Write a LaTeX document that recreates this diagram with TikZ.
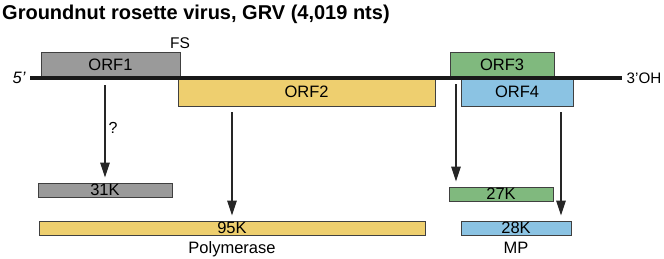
\documentclass[tikz,border=0pt]{standalone}
\usepackage{fontspec}
\setmainfont{Liberation Sans}
\usetikzlibrary{positioning,arrows.meta}
\definecolor{orfgray}{HTML}{9A9A9A}
\definecolor{orfyellow}{HTML}{EECF6F}
\definecolor{orfgreen}{HTML}{80B97E}
\definecolor{orfblue}{HTML}{8BC3E3}
\definecolor{boxline}{HTML}{404040}
\tikzset{
  orfbox/.style={draw=boxline,line width=1pt,inner sep=0pt,minimum height=26pt},
  protbox/.style={draw=boxline,line width=1pt,inner sep=0pt,minimum height=14pt},
  genome/.style={line width=4pt,draw=black!90},
  prod/.style={line width=1.3pt,draw=black!85,shorten >=5pt,-{Triangle[length=15pt,width=9.5pt]}}
}

\begin{document}
\begin{tikzpicture}[x=1pt,y=-1pt,every node/.style={font=\fontsize{16.5}{19}\selectfont,inner sep=1pt}]
  \useasboundingbox (0,0) rectangle (664,258);
  \node[anchor=base west,font=\fontsize{20}{22}\selectfont\bfseries] (title) at (1,19)
    {Groundnut rosette virus, GRV (4,019 nts)};
  % open reading frames on the genome
  \node[orfbox,fill=orfgray,minimum width=139pt] (orf1) at (110.5,65) {ORF1};
  \node[orfbox,fill=orfyellow,minimum width=257pt,minimum height=28pt] (orf2) at (306.5,92) {ORF2};
  \node[orfbox,fill=orfgreen,minimum width=104pt] (orf3) at (502,65) {ORF3};
  \node[orfbox,fill=orfblue,minimum width=112pt,minimum height=28pt] (orf4) at (517,92) {ORF4};
  \coordinate (g5) at (30,78);
  \coordinate (g3) at (622,78);
  \draw[genome] (g5) -- (g3);
  \node[left=3pt of g5] (five) {\textit{5'}};
  \node[right=3.5pt of g3,font=\fontsize{15.2}{17}\selectfont] (three) {3'OH};
  \node[font=\fontsize{15.5}{17}\selectfont] (fs) at (180,43) {FS};
  % products
  \node[protbox,fill=orfgray,minimum width=134pt] (p31) at (105,190) {31K};
  \node[protbox,fill=orfyellow,minimum width=386pt] (p95) at (232,228) {95K};
  \node[protbox,fill=orfgreen,minimum width=104pt] (p27) at (501,194) {27K};
  \node[protbox,fill=orfblue,minimum width=110pt] (p28) at (516,228) {28K};
  \node[below=5pt of p95] (polym) {Polymerase};
  \node[below=5pt of p28] (mp) {MP};
  % translation arrows
  \coordinate (s1) at (105,85);
  \coordinate (s2) at (232,112);
  \coordinate (s3) at (456,84);
  \coordinate (s4) at (561,112);
  \foreach \s/\p in {s1/p31,s2/p95,s3/p27,s4/p28}
    \draw[prod] (\s) -- (\s |- \p.north);
  \node[font=\fontsize{16}{18}\selectfont] (q) at (113,128) {?};
\end{tikzpicture}
\end{document}
